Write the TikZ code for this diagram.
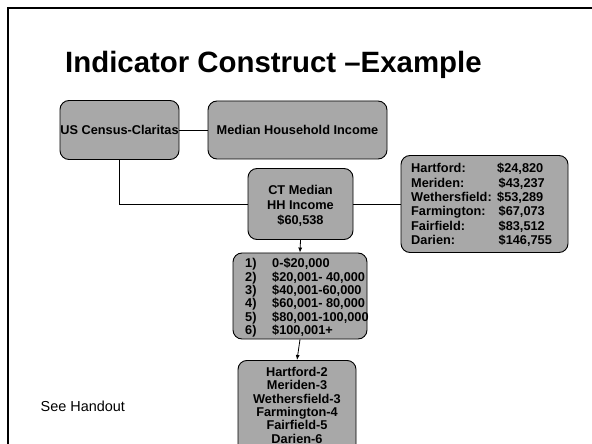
\documentclass[tikz,border=0pt]{standalone}
\usepackage{fontspec}
\setmainfont{Liberation Sans}
\usetikzlibrary{arrows.meta}
\definecolor{boxgray}{RGB}{168,168,168}
\tikzset{
  gbox/.style={draw=black, line width=0.9bp, fill=boxgray, rounded corners=9bp, inner sep=0pt},
  boxtext/.style={font=\bfseries\fontsize{12.8}{13.4}\selectfont, align=center, inner sep=0pt},
  conn/.style={draw=black, line width=0.8bp},
  arr/.style={conn, -{Latex[length=5bp,width=4bp]}}
}
\begin{document}
\begin{tikzpicture}[x=1bp,y=-1bp]
\clip (0,0) rectangle (592,444);
\useasboundingbox (0,0) rectangle (592,444);
\fill[white] (0,0) rectangle (592,444);
% frame
\draw[line width=2bp] (8,444) -- (8,8) -- (592,8);
% title
\node[anchor=base west, font=\bfseries\fontsize{29.5}{32}\selectfont, inner sep=0pt] (title) at (65,73) {Indicator Construct –Example};
% boxes
\node[gbox, minimum width=119bp, minimum height=59bp] (census) at (119.5,130) {};
\node[boxtext] at (census.center) {US Census-Claritas};
\node[gbox, minimum width=179bp, minimum height=58bp] (mhi) at (297.5,130) {};
\node[boxtext] at (mhi.center) {Median Household Income};
\node[gbox, minimum width=105bp, minimum height=71bp] (ct) at (300.5,204) {};
\node[boxtext, font=\bfseries\fontsize{12.8}{15}\selectfont] at ([yshift=-1.5bp]ct.center) {CT Median\\HH Income\\\$60,538};
\node[gbox, minimum width=167bp, minimum height=97bp] (towns) at (484.5,204) {};
\node[boxtext, align=left, font=\bfseries\fontsize{12.8}{14.4}\selectfont, anchor=north west] at (411,163) {%
\makebox[86bp][l]{Hartford:}\hspace{0bp}\$24,820\\
\makebox[86bp][l]{Meriden:}\hspace{1.5bp}\$43,237\\
\makebox[86bp][l]{Wethersfield:}\$53,289\\
\makebox[86bp][l]{Farmington:}\hspace{1.5bp}\$67,073\\
\makebox[86bp][l]{Fairfield:}\hspace{1.5bp}\$83,512\\
\makebox[86bp][l]{Darien:}\hspace{1.5bp}\$146,755};
\node[gbox, minimum width=134bp, minimum height=86bp] (ranges) at (300,296) {};
\node[boxtext, align=left, anchor=north west] at (245,258) {%
\makebox[27bp][l]{1)}0-\$20,000\\
\makebox[27bp][l]{2)}\$20,001- 40,000\\
\makebox[27bp][l]{3)}\$40,001-60,000\\
\makebox[27bp][l]{4)}\$60,001- 80,000\\
\makebox[27bp][l]{5)}\$80,001-100,000\\
\makebox[27bp][l]{6)}\$100,001+};
\node[gbox, minimum width=118bp, minimum height=100bp, anchor=north] (ranks) at (297,360) {};
\node[boxtext, anchor=north] at (297,367) {Hartford-2\\Meriden-3\\Wethersfield-3\\Farmington-4\\Fairfield-5\\Darien-6};
% see handout
\node[anchor=base west, font=\fontsize{14.5}{16}\selectfont, inner sep=0pt] (handout) at (40.5,411) {See Handout};
% connectors
\draw[conn] (census.east) -- (mhi.west);
\draw[conn] (census.south) |- (ct.west);
\draw[conn] (ct.east) -- (towns.west);
\draw[arr] (ct.south) -- (ranges.north);
\draw[arr] (ranges.south) -- (ranks.north);
\end{tikzpicture}
\end{document}
